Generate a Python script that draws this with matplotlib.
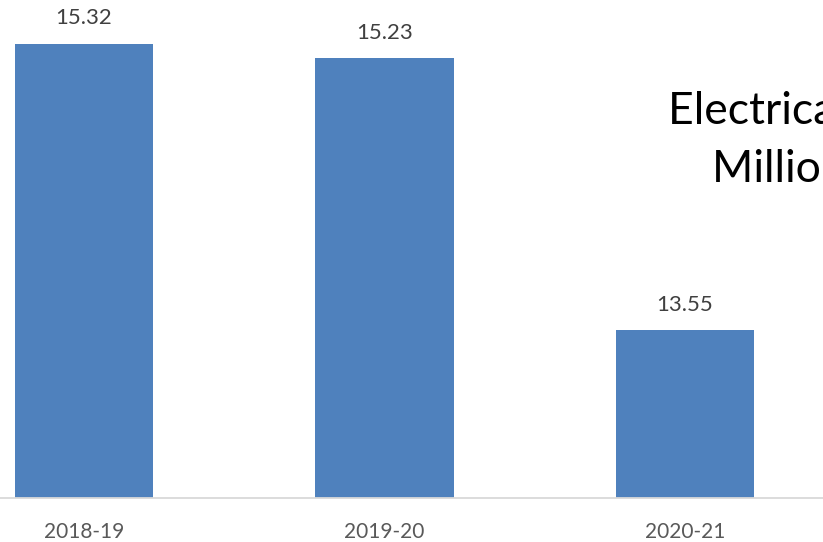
import matplotlib.pyplot as plt
import numpy as np

plt.rcParams['font.family'] = ['Lato', 'DejaVu Sans']

years = ['2018-19', '2019-20', '2020-21']
values = [15.32, 15.23, 13.55]

W, H = 823, 542
fig = plt.figure(figsize=(W / 100, H / 100), dpi=100)
ax = fig.add_axes([0, 44 / H, 1, 498 / H])

x = np.arange(len(years))
bars = ax.bar(x, values, width=0.46, color='#4f81bd', zorder=2)

# value labels above each bar
for b, v in zip(bars, values):
    ax.annotate(f'{v:.2f}', (b.get_x() + b.get_width() / 2, v),
                xytext=(0, 11), textcoords='offset points',
                ha='center', va='bottom', fontsize=16, color='#404040')

ax.set_xlim(-0.2795, 2.459)
ax.set_ylim(12.51, 15.59)
ax.set_xticks(x)
ax.set_xticklabels(years, fontsize=15, color='#595959')
ax.tick_params(axis='x', length=0, pad=17)
ax.set_yticks([])
for s in ['top', 'right', 'left']:
    ax.spines[s].set_visible(False)
ax.spines['bottom'].set_color('#d9d9d9')
ax.spines['bottom'].set_linewidth(1.3)

# chart title, runs off the right edge
fig.text(668 / W, 1 - 112 / H, 'Electrical Energy Sales in',
         fontsize=32, color='black', ha='left', va='center')
fig.text(712 / W, 1 - 169 / H, 'Million Units',
         fontsize=32, color='black', ha='left', va='center')

fig.savefig('out.png', dpi=100)
